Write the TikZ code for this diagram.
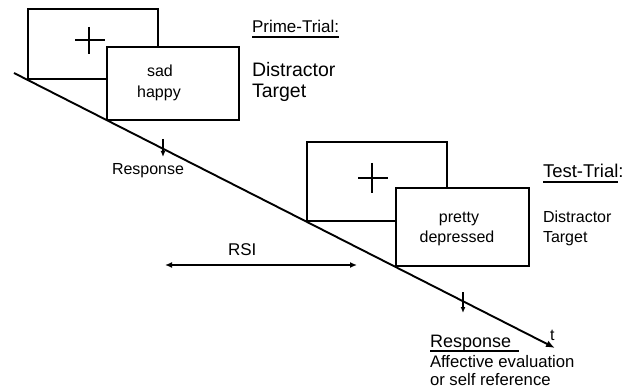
\documentclass[tikz,border=0pt]{standalone}
\usepackage{fontspec}
\setmainfont{Liberation Sans}
\usetikzlibrary{arrows.meta}
\tikzset{
  stimbox/.style={draw=black, fill=white, line width=1.7pt, inner sep=0pt},
  crossline/.style={line width=1.3pt},
  lbl/.style={inner sep=0pt, outer sep=0pt, anchor=base west, text=black},
  ctr/.style={inner sep=0pt, outer sep=0pt, anchor=base, text=black},
  uline/.style={line width=1.2pt},
  timeline/.style={line width=1.9pt, -{Latex[length=9pt,width=7pt]}},
  resparrow/.style={line width=1.4pt, -{Latex[length=6pt,width=5pt]}},
  rsiarrow/.style={line width=1.5pt, {Latex[length=7pt,width=6pt]}-{Latex[length=7pt,width=6pt]}}
}
\begin{document}
\begin{tikzpicture}[x=1pt,y=-1pt]
\useasboundingbox (0,0) rectangle (640,390);
% time line
\coordinate (tstart) at (14,73);
\coordinate (tend) at (555,348);
\draw[timeline] (tstart) -- (tend);
% prime trial boxes
\node[stimbox, minimum width=130pt, minimum height=70pt] (fix1) at (93,44) {};
\draw[crossline] (75,40) -- (105,40) (89,27) -- (89,54);
\node[stimbox, minimum width=132pt, minimum height=73pt] (stim1) at (173,83.5) {};
\node[ctr, font=\fontsize{16}{18}\selectfont] (sad) at (160,77) {sad};
\node[ctr, font=\fontsize{16}{18}\selectfont] (happy) at (159,98) {happy};
% test trial boxes
\node[stimbox, minimum width=140pt, minimum height=79pt] (fix2) at (377,181.5) {};
\draw[crossline] (358,178) -- (388,178) (372,163) -- (372,193);
\node[stimbox, minimum width=133pt, minimum height=78pt] (stim2) at (462.5,227) {};
\node[ctr, font=\fontsize{16}{18}\selectfont] (pretty) at (459,223) {pretty};
\node[ctr, font=\fontsize{16}{18}\selectfont] (depr) at (457,243) {depressed};
% labels prime
\node[lbl, font=\fontsize{17}{19}\selectfont] (prime) at (252,33) {Prime-Trial:};
\draw[uline] ([yshift=-4pt]prime.base west) -- ([yshift=-4pt]prime.base east);
\node[lbl, font=\fontsize{19.5}{21}\selectfont] (dis1) at (252,77) {Distractor};
\node[lbl, font=\fontsize{19.5}{21}\selectfont] (tar1) at (252,97.5) {Target};
% labels test
\node[lbl, font=\fontsize{18.5}{20}\selectfont] (test) at (543,178) {Test-Trial};
\node[lbl, font=\fontsize{18.5}{20}\selectfont] (testcolon) at (test.base east) {:};
\draw[uline] ([yshift=-4pt]test.base west) -- ([yshift=-4pt]test.base east);
\node[lbl, font=\fontsize{16}{18}\selectfont] (dis2) at (543,223) {Distractor};
\node[lbl, font=\fontsize{16}{18}\selectfont] (tar2) at (543,243) {Target};
% responses
\coordinate (r1a) at (163,139);
\coordinate (r1b) at (163,157);
\draw[resparrow] (r1a) -- (r1b);
\node[lbl, font=\fontsize{16}{18}\selectfont] (resp1) at (112,175) {Response};
\coordinate (r2a) at (463,292);
\coordinate (r2b) at (463,313);
\draw[resparrow] (r2a) -- (r2b);
\node[lbl, font=\fontsize{18}{20}\selectfont] (resp2) at (430,347) {Response};
\draw[uline] ([yshift=-4pt]resp2.base west) -- ([yshift=-4pt,xshift=8pt]resp2.base east);
\node[lbl, font=\fontsize{16.7}{18}\selectfont] (aff) at (430,367) {Affective evaluation};
\node[lbl, font=\fontsize{16.7}{18}\selectfont] (self) at (430,385) {or self reference};
\node[lbl, font=\fontsize{16}{18}\selectfont] (tlab) at (550,340) {t};
% RSI
\coordinate (rsia) at (165,265);
\coordinate (rsib) at (357,265);
\draw[rsiarrow] (rsia) -- (rsib);
\node[lbl, font=\fontsize{17}{19}\selectfont] (rsi) at (228,255) {RSI};
\end{tikzpicture}
\end{document}
